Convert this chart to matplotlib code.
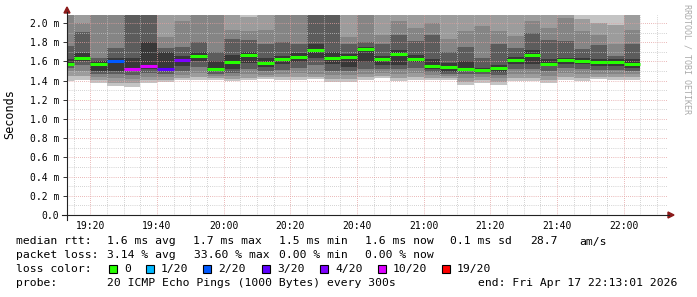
"""
Smokeping latency chart: median rtt with smoke bands and loss colours.
"""

import matplotlib

matplotlib.use("Agg")

import matplotlib.dates as mdates
import matplotlib.pyplot as plt
import pandas as pd
from matplotlib.lines import Line2D
from matplotlib.patches import Polygon, Rectangle
from matplotlib.ticker import FuncFormatter, MultipleLocator

W, H = 697, 297

plt.rcParams["font.family"] = ["DejaVu Sans Mono", "DejaVu Sans"]

# one bar per 5 minute step
bar_start = pd.date_range("2026-04-17 19:10", periods=35, freq="5min")

# median rtt (ms) per step
median = [1.573, 1.639, 1.576, 1.600, 1.524, 1.548, 1.524, 1.615, 1.656, 1.524,
          1.590, 1.670, 1.583, 1.628, 1.646, 1.722, 1.635, 1.649, 1.732, 1.628,
          1.677, 1.628, 1.556, 1.545, 1.517, 1.510, 1.534, 1.614, 1.666, 1.576,
          1.618, 1.607, 1.590, 1.590, 1.576]

# lost pings out of 20
loss = [0, 0, 0, 2, 10, 10, 3, 4, 0, 0,
        0, 0, 0, 0, 0, 0, 0, 0, 0, 0,
        0, 0, 0, 0, 0, 0, 0, 0, 0, 0,
        0, 0, 0, 0, 0]

# smoke: sorted ping ranks, outer (1) to inner (5)
lo_1 = [1.40, 1.41, 1.38, 1.34, 1.33, 1.38, 1.39, 1.41, 1.41, 1.41, 1.40, 1.41,
        1.42, 1.41, 1.41, 1.42, 1.39, 1.39, 1.41, 1.43, 1.40, 1.41, 1.41, 1.41,
        1.35, 1.38, 1.35, 1.40, 1.40, 1.37, 1.41, 1.40, 1.42, 1.41, 1.41]
lo_2 = [1.45, 1.45, 1.41, 1.38, 1.38, 1.41, 1.41, 1.43, 1.44, 1.43, 1.42, 1.43,
        1.44, 1.44, 1.44, 1.44, 1.42, 1.42, 1.44, 1.45, 1.43, 1.44, 1.43, 1.43,
        1.39, 1.41, 1.39, 1.43, 1.43, 1.41, 1.44, 1.43, 1.44, 1.44, 1.44]
lo_3 = [1.50, 1.50, 1.44, 1.43, 1.42, 1.44, 1.44, 1.46, 1.48, 1.45, 1.45, 1.47,
        1.46, 1.47, 1.48, 1.47, 1.46, 1.46, 1.47, 1.48, 1.47, 1.48, 1.46, 1.45,
        1.43, 1.44, 1.43, 1.47, 1.47, 1.45, 1.48, 1.47, 1.47, 1.47, 1.47]
lo_4 = [1.53, 1.56, 1.47, 1.47, 1.46, 1.48, 1.47, 1.50, 1.54, 1.47, 1.48, 1.52,
        1.50, 1.51, 1.53, 1.56, 1.50, 1.50, 1.52, 1.52, 1.52, 1.53, 1.49, 1.47,
        1.47, 1.47, 1.46, 1.52, 1.52, 1.50, 1.53, 1.52, 1.51, 1.51, 1.50]
lo_5 = [1.555, 1.60, 1.50, 1.50, 1.50, 1.52, 1.50, 1.55, 1.60, 1.50, 1.52, 1.58,
        1.54, 1.57, 1.59, 1.64, 1.57, 1.54, 1.59, 1.56, 1.56, 1.59, 1.52, 1.49,
        1.50, 1.49, 1.49, 1.57, 1.57, 1.55, 1.57, 1.57, 1.55, 1.55, 1.53]
hi_5 = [1.62, 1.69, 1.60, 1.64, 1.64, 1.80, 1.70, 1.66, 1.70, 1.60, 1.67, 1.70,
        1.64, 1.66, 1.69, 1.78, 1.70, 1.68, 1.75, 1.66, 1.72, 1.67, 1.63, 1.58,
        1.60, 1.53, 1.56, 1.65, 1.72, 1.62, 1.64, 1.64, 1.63, 1.62, 1.63]
hi_4 = [1.76, 1.91, 1.64, 1.74, 2.20, 2.20, 1.74, 1.75, 1.80, 1.70, 1.83, 1.82,
        1.78, 1.80, 1.78, 2.15, 2.15, 1.78, 1.80, 1.78, 1.88, 1.81, 1.88, 1.70,
        1.75, 1.64, 1.78, 1.74, 1.90, 1.82, 1.81, 1.73, 1.77, 1.66, 1.78]
hi_3 = [2.20, 2.00, 2.20, 2.20, 2.30, 2.30, 1.85, 2.02, 2.20, 2.20, 1.93, 1.92,
        1.93, 2.20, 2.20, 2.25, 2.25, 1.85, 2.20, 1.88, 2.02, 1.95, 2.00, 1.83,
        1.92, 1.97, 1.92, 1.86, 2.02, 1.95, 2.05, 1.92, 1.88, 1.78, 1.93]
hi_2 = [2.30, 2.30, 2.30, 2.30, 2.40, 2.40, 2.30, 2.30, 2.30, 2.30, 2.30, 2.06,
        2.30, 2.30, 2.30, 2.35, 2.35, 2.30, 2.30, 2.30, 2.30, 2.30, 2.30, 2.30,
        2.30, 2.30, 2.30, 2.30, 2.30, 2.30, 2.30, 2.04, 2.00, 1.98, 2.30]
hi_1 = [2.40, 2.40, 2.40, 2.40, 2.50, 2.50, 2.40, 2.40, 2.40, 2.40, 2.40, 2.40,
        2.40, 2.40, 2.40, 2.45, 2.45, 2.40, 2.40, 2.40, 2.40, 2.40, 2.40, 2.40,
        2.40, 2.40, 2.40, 2.40, 2.40, 2.40, 2.40, 2.40, 2.40, 2.40, 2.40]

loss_levels = [0, 1, 2, 3, 4, 10, 19]
loss_labels = ["0", "1/20", "2/20", "3/20", "4/20", "10/20", "19/20"]
loss_colors = ["#26ff00", "#00b8ff", "#0059ff", "#5e00ff", "#7e00ff", "#dd00ff", "#ff0000"]

smoke_shades = ["#c4c4c4", "#9c9c9c", "#858585", "#5c5c5c", "#383838"]


def px(x, y):
    return x / W, 1 - y / H


def main():
    fig = plt.figure(figsize=(W / 100, H / 100), dpi=100)
    ax = fig.add_axes([67 / W, 1 - 215 / H, 600 / W, 200 / H])

    x = mdates.date2num(bar_start)
    step = 5 / 1440

    layers = [(lo_1, hi_1), (lo_2, hi_2), (lo_3, hi_3), (lo_4, hi_4), (lo_5, hi_5)]
    for (lo, hi), shade in zip(layers, smoke_shades):
        ax.bar(x, [h - l for l, h in zip(lo, hi)], bottom=lo, width=step,
               align="edge", color=shade, linewidth=0, zorder=1)

    color_of = dict(zip(loss_levels, loss_colors))
    ax.hlines(median, x, x + step, colors=[color_of[v] for v in loss],
              linewidth=2.2, zorder=4)

    t0 = mdates.date2num(pd.Timestamp("2026-04-17 19:13:01"))
    t1 = mdates.date2num(pd.Timestamp("2026-04-17 22:13:01"))
    ax.set_xlim(t0, t1)
    ax.set_ylim(0, 200 / 96)

    ax.xaxis.set_major_locator(mdates.MinuteLocator(byminute=[0, 20, 40]))
    ax.xaxis.set_minor_locator(mdates.MinuteLocator(byminute=range(0, 60, 5)))
    ax.xaxis.set_major_formatter(mdates.DateFormatter("%H:%M"))
    ax.yaxis.set_major_locator(MultipleLocator(0.2))
    ax.yaxis.set_minor_locator(MultipleLocator(0.1))
    ax.yaxis.set_major_formatter(
        FuncFormatter(lambda v, p: "0.0" if abs(v) < 1e-9 else f"{v:.1f} m"))

    ax.set_axisbelow(False)
    ax.grid(which="minor", color="#c4c4c4", linestyle=(0, (0.7, 1.4)), linewidth=0.72)
    ax.grid(which="major", color="#e3a0a0", linestyle=(0, (0.7, 1.4)), linewidth=0.72)

    ax.tick_params(axis="x", which="both", length=0, pad=4, labelsize=7)
    ax.tick_params(axis="y", which="major", length=3, width=0.7, pad=2.5,
                   labelsize=7, color="#333333")
    ax.tick_params(axis="y", which="minor", length=0)

    for side in ["top", "right", "left", "bottom"]:
        ax.spines[side].set_visible(False)

    # axis lines with arrow heads
    fig.add_artist(Line2D(*zip(px(62, 215), px(669, 215)), color="#222222", linewidth=0.8))
    fig.add_artist(Line2D(*zip(px(67, 220), px(67, 12)), color="#222222", linewidth=0.8))
    fig.add_artist(Polygon([px(668, 212), px(674, 215), px(668, 218)], closed=True,
                           color="#8b1a1a", transform=fig.transFigure))
    fig.add_artist(Polygon([px(64, 13), px(67, 7), px(70, 13)], closed=True,
                           color="#8b1a1a", transform=fig.transFigure))

    fig.text(*px(10, 114), "Seconds", rotation=90, ha="center", va="center", fontsize=8.5)
    fig.text(*px(687, 4), "RRDTOOL / TOBI OETIKER", rotation=270, ha="center",
             va="top", fontsize=6, color="#aaaaaa")

    # legend block
    fs = 8.2
    rows = [
        (241.5, [(16, "median rtt:"), (107, "1.6 ms avg"), (193, "1.7 ms max"),
                 (279, "1.5 ms min"), (365, "1.6 ms now"), (450, "0.1 ms sd"),
                 (530, "28.7"), (579, "am/s")]),
        (255, [(16, "packet loss:"), (107, "3.14 % avg"), (194, "33.60 % max"),
               (279, "0.00 % min"), (365, "0.00 % now")]),
        (269, [(16, "loss color:")]),
        (282.5, [(16, "probe:"), (107, "20 ICMP Echo Pings (1000 Bytes) every 300s"),
                 (478, "end: Fri Apr 17 22:13:01 2026")]),
    ]
    for y, items in rows:
        for xx, s in items:
            fig.text(*px(xx, y), s, ha="left", va="center", fontsize=fs)

    box_x = [109, 146, 203, 262, 320, 378, 442]
    for bx, label, col in zip(box_x, loss_labels, loss_colors):
        fig.add_artist(Rectangle(px(bx, 273), 8 / W, 8 / H, facecolor=col,
                                 edgecolor="black", linewidth=0.8,
                                 transform=fig.transFigure))
        fig.text(*px(bx + 15, 269), label, ha="left", va="center", fontsize=fs)

    fig.savefig("out.png", dpi=100)
    plt.close(fig)


if __name__ == "__main__":
    main()
